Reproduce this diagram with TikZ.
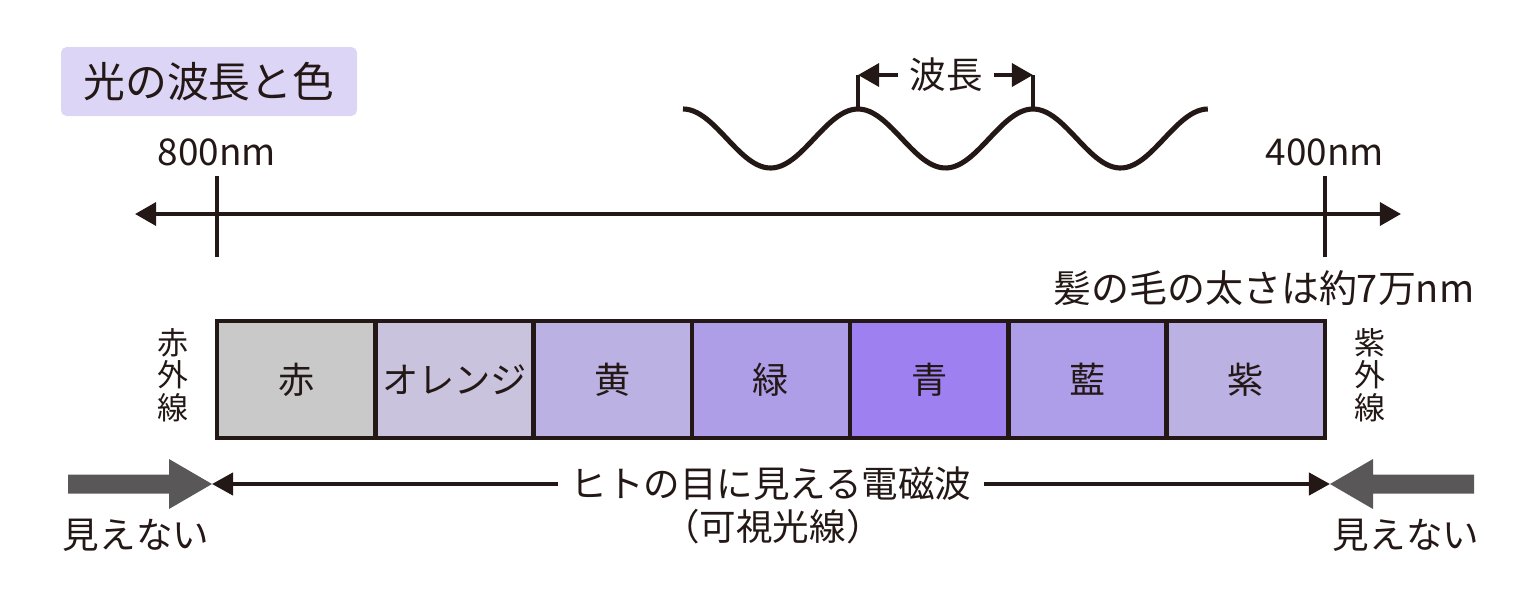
\documentclass[tikz,border=0pt]{standalone}
\usepackage{fontspec}
\setmainfont{Noto Sans CJK JP}
\usetikzlibrary{arrows.meta}

\definecolor{ink}{RGB}{35,24,21}
\definecolor{titlefill}{RGB}{220,213,246}
\definecolor{fatgray}{RGB}{89,87,87}
\definecolor{cRed}{RGB}{201,201,202}
\definecolor{cOrange}{RGB}{201,195,222}
\definecolor{cYellow}{RGB}{187,177,227}
\definecolor{cGreen}{RGB}{174,158,232}
\definecolor{cBlue}{RGB}{158,128,240}
\definecolor{cIndigo}{RGB}{174,157,232}
\definecolor{cViolet}{RGB}{187,177,227}

\begin{document}
\begin{tikzpicture}[x=0.1mm,y=-0.1mm,
  every node/.style={text=ink},
  titlebox/.style={fill=titlefill,rounded corners=1.6pt,minimum width=2.96cm,minimum height=0.69cm,font=\fontsize{11.9}{13}\selectfont},
  nmlabel/.style={font=\fontsize{10.5}{12}\selectfont},
  band/.style={draw=ink,line width=1.3pt,minimum width=1.583cm,minimum height=1.17cm,font=\fontsize{10.3}{12}\selectfont,inner sep=0pt},
  sidelabel/.style={align=center,font=\fontsize{8.8}{9.25}\selectfont,inner sep=0pt},
  biglabel/.style={font=\fontsize{10.4}{12}\selectfont},
  axis/.style={draw=ink,line width=1.15pt},
  tip/.style={-{Triangle[length=6pt,width=6.5pt]}},
  smalltip/.style={-{Triangle[length=6pt,width=6.3pt]}}
]
\useasboundingbox (0,0) rectangle (1536,605);

% title
\node[titlebox] (title) at (209,81.5) {光の波長と色};

% wave and wavelength mark
\draw[ink,line width=1.45pt] plot[domain=0:3,samples=150,smooth] ({683+175*\x},{138.5-29.5*cos(360*\x)});
\coordinate (pk1) at (858,109);
\coordinate (pk2) at (1033,109);
\node[biglabel,inner sep=3pt] (wl) at (946,75) {波長};
\draw[axis] (pk1) -- (pk1 |- wl);
\draw[axis] (pk2) -- (pk2 |- wl);
\draw[axis,tip] (wl) -- (pk1 |- wl);
\draw[axis,tip] (wl) -- (pk2 |- wl);

% wavelength axis
\coordinate (axL) at (135,214);
\coordinate (axR) at (1401,214);
\draw[axis,{Triangle[length=6pt,width=6.5pt]}-{Triangle[length=6pt,width=6.5pt]}] (axL) -- (axR);
\foreach \x/\lab in {217/800nm,1325/400nm} {
\node[nmlabel] (nm\x) at (\x,152) {\lab};
\draw[axis] (\x,176) -- (\x,257);
}
\node[anchor=east,inner sep=0pt,font=\fontsize{10.8}{12}\selectfont] (hair) at (1475,288) {髪の毛の太さは約7万nm};

% colour bands
\foreach \i/\lab/\col in {0/赤/cRed,1/オレンジ/cOrange,2/黄/cYellow,3/緑/cGreen,4/青/cBlue,5/藍/cIndigo,6/紫/cViolet} {
\node[band,fill=\col] (band\i) at ({217+158.29*\i+79.14},379.5) {\lab};
}
\node[sidelabel] (ir) at (173,375) {赤\\外\\線};
\node[sidelabel] (uv) at (1370,375) {紫\\外\\線};

% visible range
\coordinate (visL) at (212,484);
\coordinate (visR) at (1330,484);
\node[biglabel,inner sep=3.4pt] (vis) at (771,484) {ヒトの目に見える電磁波};
\node[biglabel] (vis2) at (773,527) {（可視光線）};
\draw[axis,smalltip] (vis) -- (visL);
\draw[axis,smalltip] (vis) -- (visR);

% invisible sides
\foreach \sx/\ox in {1/0,-1/1542} {
\fill[fatgray,shift={(\ox,0)},xscale=\sx] (68,474.5) -- (169,474.5) -- (169,459) -- (212,484) -- (169,509) -- (169,493.5) -- (68,493.5) -- cycle;
}
\node[biglabel] (noL) at (136,535) {見えない};
\node[biglabel] (noR) at (1406,535) {見えない};

\end{tikzpicture}
\end{document}
